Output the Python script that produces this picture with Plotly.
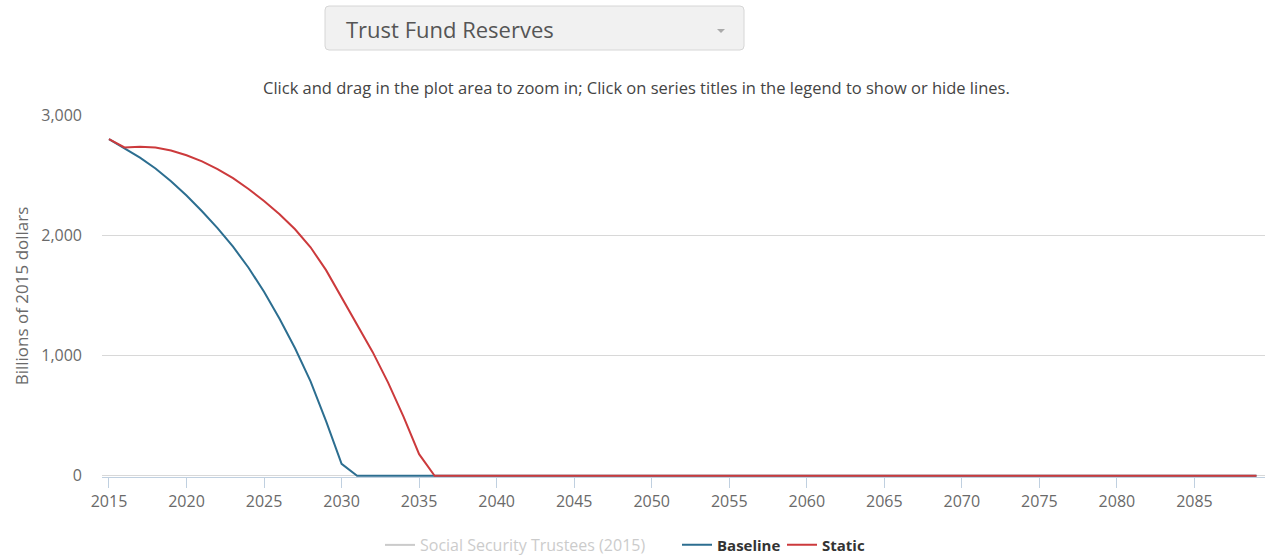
import plotly.graph_objects as go

# ---------------- data ----------------
years = list(range(2015, 2090))

baseline_values = [
    2800, 2725, 2645, 2555, 2450, 2330, 2200, 2060, 1905, 1730,
    1530, 1305, 1060, 785, 455, 100,
    0, 0, 0, 0, 0, 0, 0, 0, 0, 0, 0, 0, 0, 0, 0, 0, 0, 0, 0, 0,
    0, 0, 0, 0, 0, 0, 0, 0, 0, 0, 0, 0, 0, 0, 0, 0, 0, 0, 0, 0,
    0, 0, 0, 0, 0, 0, 0, 0, 0, 0, 0, 0, 0, 0, 0, 0, 0, 0, 0,
]

static_values = [
    2800, 2730, 2735, 2730, 2705, 2665, 2615, 2550, 2475, 2385,
    2285, 2175, 2050, 1900, 1710, 1480, 1260, 1030, 775, 490, 180,
    0, 0, 0, 0, 0, 0, 0, 0, 0, 0, 0, 0, 0, 0, 0, 0, 0, 0, 0, 0,
    0, 0, 0, 0, 0, 0, 0, 0, 0, 0, 0, 0, 0, 0, 0, 0, 0, 0, 0, 0,
    0, 0, 0, 0, 0, 0, 0, 0, 0, 0, 0, 0, 0, 0,
]

series_names = ["Social Security Trustees (2015)", "Baseline", "Static"]
x_ticks = list(range(2015, 2090, 5))
y_ticks = [0, 1000, 2000, 3000]
y_tick_labels = ["0", "1,000", "2,000", "3,000"]

dropdown_label = "Trust Fund Reserves"
subtitle = ("Click and drag in the plot area to zoom in; Click on series titles "
            "in the legend to show or hide lines.")
y_title = "Billions of 2015 dollars"

# ---------------- layout geometry ----------------
W, H = 1272, 556
L, R, T, B = 102, 7, 115, 79
PW, PH = W - L - R, H - T - B
FONT = "Open Sans"


def px2x(px):
    return (px - L) / PW


def py2y(py):
    return (H - B - py) / PH


fig = go.Figure()

fig.add_trace(go.Scatter(
    x=[None], y=[None], mode="lines", name=series_names[0],
    line=dict(color="#999999", width=2), visible="legendonly",
    legend="legend",
))
fig.add_trace(go.Scatter(
    x=years, y=baseline_values, mode="lines", name=series_names[1],
    line=dict(color="#2c6e90", width=2), legend="legend2",
))
fig.add_trace(go.Scatter(
    x=years, y=static_values, mode="lines", name=series_names[2],
    line=dict(color="#cc3a3c", width=2), legend="legend3",
))

legend_common = dict(
    orientation="h", xref="container", yref="container",
    xanchor="left", yanchor="middle", y=1 - 545 / H,
    bgcolor="rgba(0,0,0,0)", itemwidth=30, itemclick=False,
    itemdoubleclick=False,
)

fig.update_layout(
    width=W, height=H,
    margin=dict(l=L, r=R, t=T, b=B, pad=0),
    paper_bgcolor="white", plot_bgcolor="white",
    font=dict(family=FONT, color="#666666", size=14),
    showlegend=True,
    legend=dict(**legend_common, x=380 / W,
                font=dict(family=FONT, size=16, color="#999999")),
    legend2=dict(**legend_common, x=677 / W,
                 font=dict(family=FONT, size=15, color="#333333", weight="bold")),
    legend3=dict(**legend_common, x=782 / W,
                 font=dict(family=FONT, size=15, color="#333333", weight="bold")),
    xaxis=dict(
        range=[2014.55, 2089.55], tickmode="array", tickvals=x_ticks,
        ticks="outside", ticklen=10, tickcolor="#C0D0E0", tickwidth=1,
        showline=True, linecolor="#C0D0E0", linewidth=1,
        showgrid=False, zeroline=False,
        tickfont=dict(family=FONT, size=16, color="#6a6a6a"),
    ),
    yaxis=dict(
        range=[-10, 3000], tickmode="array", tickvals=y_ticks,
        ticktext=y_tick_labels, ticks="", showline=False,
        showgrid=True, gridcolor="#D8D8D8", gridwidth=1, zeroline=False,
        tickfont=dict(family=FONT, size=16, color="#6a6a6a"),
        ticklabelstandoff=19,
        title=dict(text=y_title, font=dict(family=FONT, size=17, color="#6a6a6a"),
                   standoff=8),
    ),
    hovermode="x unified",
)

# dropdown-like box
r = 4
hw, hh = 209.5, 22
box_path = (f"M {-hw + r},{-hh} L {hw - r},{-hh} Q {hw},{-hh} {hw},{-hh + r} "
            f"L {hw},{hh - r} Q {hw},{hh} {hw - r},{hh} L {-hw + r},{hh} "
            f"Q {-hw},{hh} {-hw},{hh - r} L {-hw},{-hh + r} Q {-hw},{-hh} {-hw + r},{-hh} Z")
fig.add_shape(
    type="path", xref="paper", yref="paper",
    xsizemode="pixel", ysizemode="pixel",
    xanchor=px2x(534.5), yanchor=py2y(28),
    path=box_path, fillcolor="#f1f1f1",
    line=dict(color="#d6d6d6", width=1), layer="above",
)
fig.add_shape(
    type="path", xref="paper", yref="paper",
    xsizemode="pixel", ysizemode="pixel",
    xanchor=px2x(721), yanchor=py2y(31),
    path="M -4,2 L 4,2 L 0,-2 Z", fillcolor="#aaaaaa",
    line=dict(width=0), layer="above",
)
fig.add_annotation(
    text=dropdown_label, xref="paper", yref="paper",
    x=px2x(344), y=py2y(29), xanchor="left", yanchor="middle",
    showarrow=False, font=dict(family=FONT, size=22, color="#555555"),
)
fig.add_annotation(
    text=subtitle, xref="paper", yref="paper",
    x=px2x(636), y=py2y(87), xanchor="center", yanchor="middle",
    showarrow=False, font=dict(family=FONT, size=16.5, color="#444444"),
)

fig.write_html("out.html")
